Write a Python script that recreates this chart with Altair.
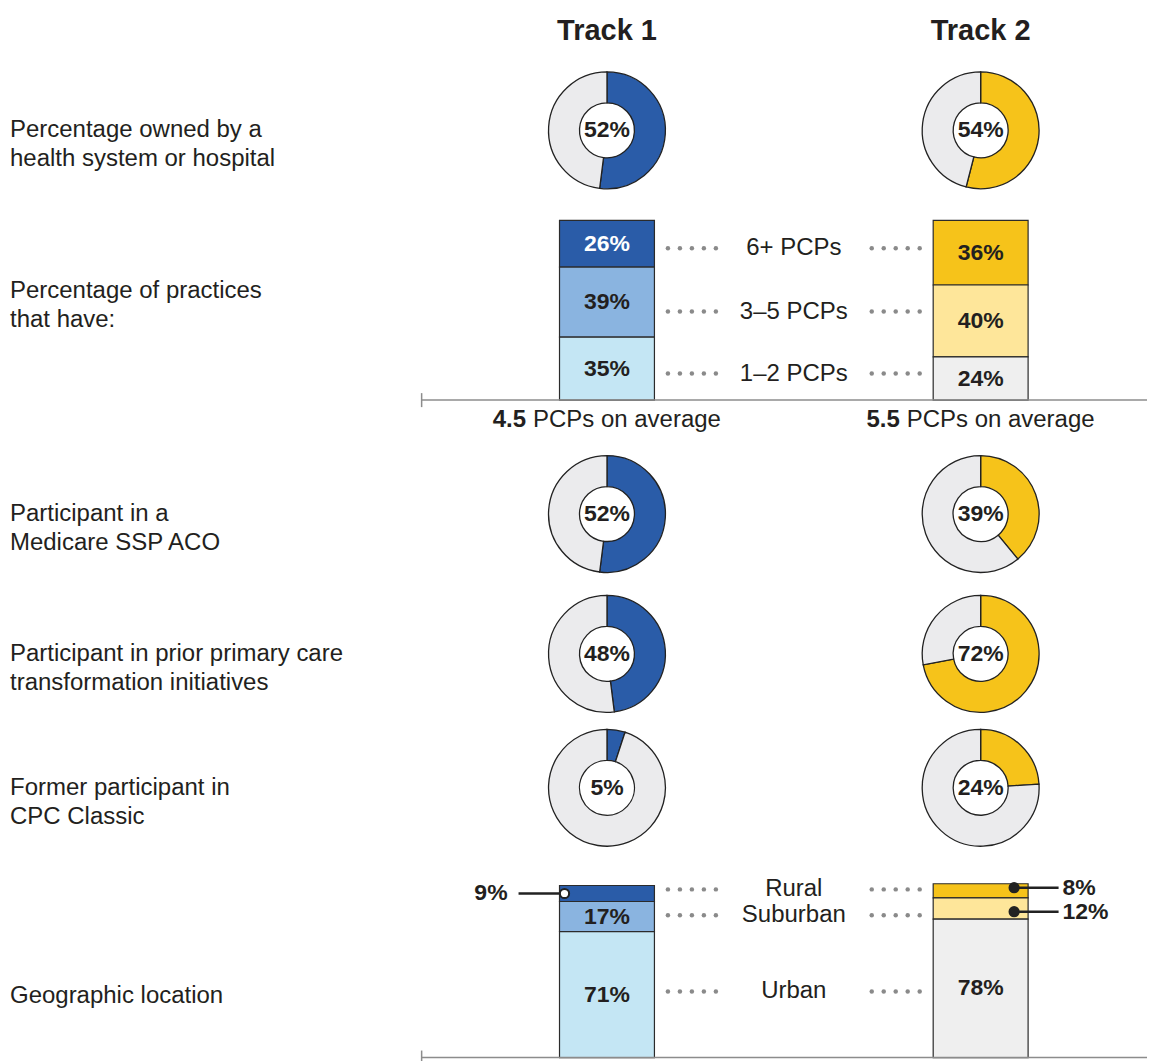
import altair as alt
import pandas as pd

# ---------------- data ----------------
TRACKS = ["Track 1", "Track 2"]

OWNED = [52, 54]                      # owned by a health system or hospital
PCP_CATS = ["6+ PCPs", "3\u20135 PCPs", "1\u20132 PCPs"]
PCP_T1 = [26, 39, 35]
PCP_T2 = [36, 40, 24]
PCP_AVG = ["4.5", "5.5"]
SSP = [52, 39]                        # Medicare SSP ACO
PRIOR = [48, 72]                      # prior transformation initiatives
CPC = [5, 24]                         # former CPC Classic
GEO_CATS = ["Rural", "Suburban", "Urban"]
GEO_T1 = [9, 17, 71]
GEO_T2 = [8, 12, 78]

LBL_OWNED = "Percentage owned by a\nhealth system or hospital"
LBL_PCP = "Percentage of practices\nthat have:"
LBL_SSP = "Participant in a\nMedicare SSP ACO"
LBL_PRIOR = "Participant in prior primary care\ntransformation initiatives"
LBL_CPC = "Former participant in\nCPC Classic"
LBL_GEO = "Geographic location"

# ---------------- style ----------------
FONT = "Liberation Sans"
INK = "#231f20"
W = 1140
FS = 24      # regular text
FB = 23      # bold percentages

X_SCALE = alt.Scale(type="point", domain=["Track 1", "mid", "Track 2"],
                    range=[599.5, 973.5], padding=0)

COLOR = alt.Scale(
    domain=["Track 1|0", "Track 1|1", "Track 1|2",
            "Track 2|0", "Track 2|1", "Track 2|2", "rest"],
    range=["#2a5ca8", "#8ab4e0", "#c4e6f4",
           "#f6c31a", "#fee69a", "#efefef", "#ebebed"])


def xenc():
    return alt.X("col:N", scale=X_SCALE, axis=None)


def left_label(text, y):
    return alt.Chart(pd.DataFrame({"t": [text]})).mark_text(
        font=FONT, fontSize=FS, align="left", baseline="middle",
        lineBreak="\n", lineHeight=29, color=INK
    ).encode(x=alt.value(2), y=alt.value(y), text="t:N")


def header_row(height):
    df = pd.DataFrame({"col": TRACKS})
    return alt.Chart(df).mark_text(
        font=FONT, fontSize=29, fontWeight="bold", color=INK, baseline="middle"
    ).encode(x=xenc(), y=alt.value(23), text="col:N").properties(width=W, height=height)


def donut_row(label, vals, height, cy):
    rows = []
    for t, v in zip(TRACKS, vals):
        rows.append({"col": t, "v": v, "order": 0, "key": t + "|0"})
        rows.append({"col": t, "v": 100 - v, "order": 1, "key": "rest"})
    df = pd.DataFrame(rows)
    arcs = alt.Chart(df).transform_stack(
        stack="v", as_=["t0", "t1"], groupby=["col"],
        sort=[alt.SortField("order", order="ascending")]
    ).mark_arc(outerRadius=58.5, innerRadius=27.5, stroke="#222", strokeWidth=1.3).encode(
        x=xenc(), y=alt.value(cy),
        theta=alt.Theta("t0:Q", scale=alt.Scale(domain=[0, 100])),
        theta2="t1:Q",
        color=alt.Color("key:N", scale=COLOR, legend=None),
    )
    txt = alt.Chart(pd.DataFrame({"col": TRACKS, "v": vals})).transform_calculate(
        lbl="datum.v + '%'"
    ).mark_text(font=FONT, fontSize=FB, fontWeight="bold", color=INK, baseline="middle").encode(
        x=xenc(), y=alt.value(cy), text="lbl:N")
    return alt.layer(arcs, txt, left_label(label, cy)).properties(width=W, height=height)


def spread(pos, min_gap):
    """Push label positions (top to bottom order) apart so they do not collide."""
    pos = list(pos)
    for _ in range(20):
        moved = False
        for i in range(len(pos) - 1):
            gap = pos[i] - pos[i + 1]
            if gap < min_gap:
                d = (min_gap - gap) / 2
                pos[i] += d
                pos[i + 1] -= d
                moved = True
        if not moved:
            break
    return pos


def bar_row(label, label_y, cats, v1, v2, height, y0px, y100px, avg=None):
    px_per_pct = (y0px - y100px) / 100.0

    # stacked segments (first category on top)
    rows = []
    for t, vals in zip(TRACKS, (v1, v2)):
        top = sum(vals)
        for i, (c, v) in enumerate(zip(cats, vals)):
            s1 = top - sum(vals[:i])
            s0 = s1 - v
            rows.append({"col": t, "cat": c, "v": v, "key": f"{t}|{i}",
                         "s0": s0, "s1": s1, "mid": (s0 + s1) / 2, "lbl": f"{v}%"})
    df = pd.DataFrame(rows)

    # category labels between the bars
    cat_y = df.groupby("cat", sort=False)["mid"].mean().reindex(cats).tolist()
    cat_df = pd.DataFrame({"cat": cats, "ym": spread(cat_y, 26 / px_per_pct)})

    # callouts for segments too small to hold their label
    small = df[df["v"] < 15].copy()
    small["cy"] = 0.0
    for t in TRACKS:
        m = small["col"] == t
        small.loc[m, "cy"] = spread(small.loc[m, "mid"].tolist(), 24 / px_per_pct)

    ys = alt.Scale(domain=[0, 100], range=[y0px, y100px])

    def Y(f):
        return alt.Y(f, scale=ys, axis=None)

    base = alt.Chart(df)
    layers = [
        base.mark_bar(size=95, stroke="#2b2b2b", strokeWidth=1.2).encode(
            x=xenc(), y=Y("s0:Q"), y2="s1:Q",
            color=alt.Color("key:N", scale=COLOR, legend=None)),
        base.transform_filter("datum.v >= 15").mark_text(
            font=FONT, fontSize=FB, fontWeight="bold", baseline="middle").encode(
            x=xenc(), y=Y("mid:Q"), text="lbl:N",
            color=alt.condition("datum.key == 'Track 1|0'", alt.value("white"), alt.value(INK))),
    ]

    cat_chart = alt.Chart(cat_df)
    layers.append(cat_chart.transform_calculate(col="'mid'").mark_text(
        font=FONT, fontSize=FS, color=INK, baseline="middle").encode(
        x=xenc(), y=Y("ym:Q"), text="cat:N"))
    for t, side in (("Track 1", 1), ("Track 2", -1)):
        for k in range(5):
            layers.append(cat_chart.transform_calculate(col=f"'{t}'").mark_circle(
                size=20, color="#8a8a8a", opacity=1, xOffset=side * 85 + (k - 2) * 12).encode(
                x=xenc(), y=Y("ym:Q")))

    zero = alt.Chart(pd.DataFrame({"z": [0]}))
    layers.append(zero.mark_rule(color="#8c8c8c", strokeWidth=1.5).encode(
        x=alt.value(414), x2=alt.value(W), y=Y("z:Q")))
    layers.append(zero.mark_rule(color="#8c8c8c", strokeWidth=1.5).encode(
        x=alt.value(414), y=alt.value(y0px - 7), y2=alt.value(y0px + 7)))

    spec = {
        "Track 1": dict(circ=-42.5, line=-65.5, text=-99.5, align="right", fill="white"),
        "Track 2": dict(circ=33.5, line=55, text=82, align="left", fill="#222"),
    }
    for t, s in spec.items():
        sub = small[small["col"] == t]
        if sub.empty:
            continue
        sm = alt.Chart(sub)
        layers.append(sm.mark_tick(size=46, thickness=2.5, color="#222", opacity=1,
                                   xOffset=s["line"]).encode(x=xenc(), y=Y("cy:Q")))
        layers.append(sm.mark_point(shape="circle", size=85, filled=True, fill=s["fill"],
                                    stroke="#222", strokeWidth=2, opacity=1,
                                    xOffset=s["circ"]).encode(x=xenc(), y=Y("cy:Q")))
        layers.append(sm.mark_text(font=FONT, fontSize=FB, fontWeight="bold", color=INK,
                                   align=s["align"], baseline="middle",
                                   xOffset=s["text"]).encode(x=xenc(), y=Y("cy:Q"), text="lbl:N"))

    if avg is not None:
        adf = pd.DataFrame({"col": TRACKS, "avg": avg})
        layers.append(alt.Chart(adf).mark_text(
            font=FONT, fontSize=FS, fontWeight="bold", color=INK, align="right",
            baseline="middle", xOffset=-81).encode(
            x=xenc(), y=alt.value(y0px + 20), text="avg:N"))
        layers.append(alt.Chart(adf).transform_calculate(t="'PCPs on average'").mark_text(
            font=FONT, fontSize=FS, color=INK, align="left",
            baseline="middle", xOffset=-74).encode(
            x=xenc(), y=alt.value(y0px + 20), text="t:N"))

    layers.append(left_label(label, label_y))
    return alt.layer(*layers).properties(width=W, height=height)


chart = alt.vconcat(
    header_row(52),
    donut_row(LBL_OWNED, OWNED, 140, 70),
    bar_row(LBL_PCP, 91, PCP_CATS, PCP_T1, PCP_T2, 244, 200, 20, avg=PCP_AVG),
    donut_row(LBL_SSP, SSP, 140, 70),
    donut_row(LBL_PRIOR, PRIOR, 140, 70),
    donut_row(LBL_CPC, CPC, 128, 64),
    bar_row(LBL_GEO, 144, GEO_CATS, GEO_T1, GEO_T2, 209, 206, 28.5),
    spacing=0, bounds="flush",
).properties(padding=0).configure_view(stroke=None)

chart.save("out.html", embed_options={"renderer": "svg", "actions": False})
